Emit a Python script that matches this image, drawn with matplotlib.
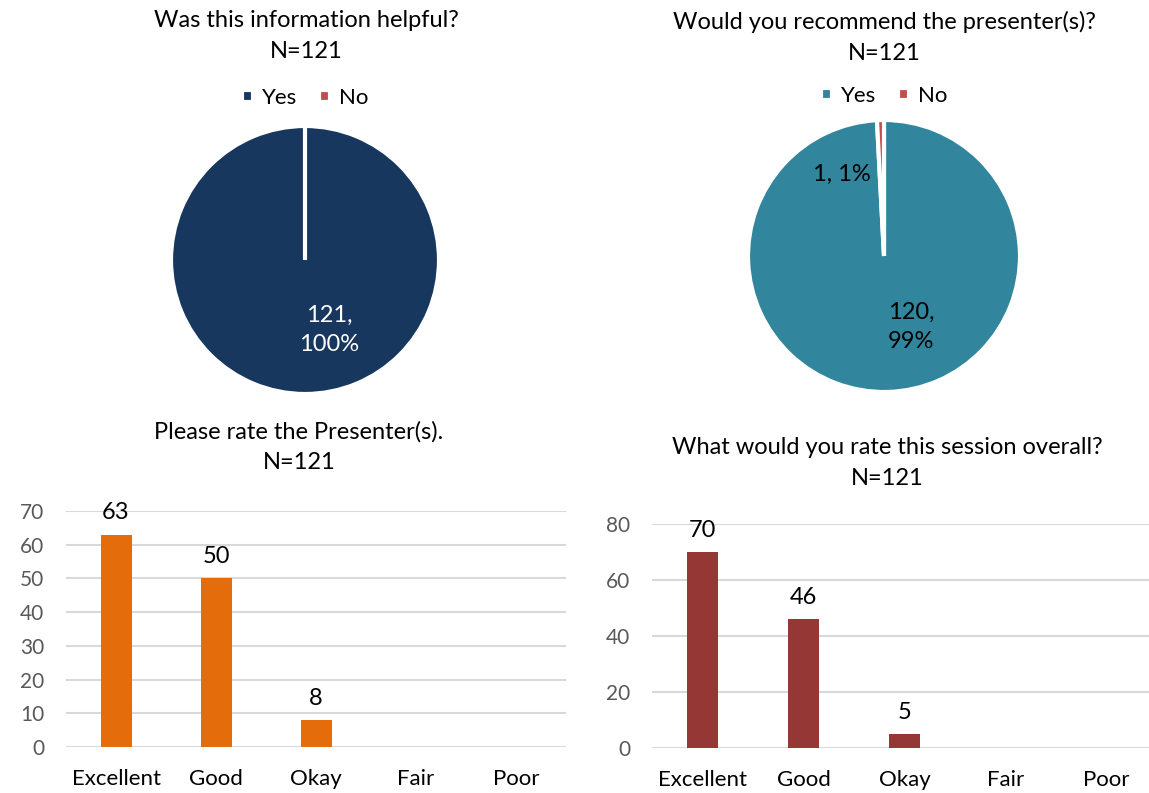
import matplotlib
matplotlib.use("Agg")
import matplotlib.pyplot as plt

plt.rcParams['font.family'] = ['Lato', 'DejaVu Sans']

# survey answers
yn_labels = ['Yes', 'No']
helpful_counts = [121, 0]
recommend_counts = [120, 1]

ratings = ['Excellent', 'Good', 'Okay', 'Fair', 'Poor']
presenter_counts = [63, 50, 8, 0, 0]
session_counts = [70, 46, 5, 0, 0]

W, H = 1149, 793


def box(left, top, width, height):
    # pixel box -> figure fraction
    return [left / W, (H - top - height) / H, width / W, height / H]


def pie_panel(fig, rect, counts, colors, title, legend_xy, labels_pos, label_colors):
    ax = fig.add_axes(rect)
    total = sum(counts)
    wedges, _ = ax.pie(counts, colors=colors, startangle=90, counterclock=False,
                       wedgeprops=dict(edgecolor='white', linewidth=3))
    ax.set_xlim(-1, 1)
    ax.set_ylim(-1, 1)
    ax.set_aspect('equal')
    for val, pos, col in zip(counts, labels_pos, label_colors):
        if pos is None:
            continue
        pct = round(100 * val / total)
        txt = f"{val},\n{pct}%" if val > 50 else f"{val}, {pct}%"
        ax.text(pos[0], pos[1], txt, ha='center', va='center', fontsize=17,
                color=col, linespacing=1.5)
    fig.text(title[0], title[1], title[2], ha='center', va='center', fontsize=17,
             linespacing=1.6)
    fig.legend(wedges, yn_labels, loc='center', bbox_to_anchor=legend_xy, ncol=2,
               frameon=False, fontsize=16, handlelength=0.5, handleheight=0.5,
               handletextpad=0.4, columnspacing=1.0)


def bar_panel(fig, rect, counts, color, ymax, step, title):
    ax = fig.add_axes(rect)
    x = range(len(ratings))
    ax.bar(x, counts, width=0.31, color=color, zorder=3)
    for i, v in enumerate(counts):
        if v > 0:
            ax.annotate(str(v), (i, v), xytext=(0, 8), textcoords='offset points',
                        ha='center', va='bottom', fontsize=17)
    ax.set_xlim(-0.5, len(ratings) - 0.5)
    ax.set_ylim(0, ymax)
    ax.set_yticks(range(0, ymax + 1, step))
    ax.set_xticks(list(x))
    ax.set_xticklabels(ratings, fontsize=16)
    ax.tick_params(axis='y', labelsize=15, labelcolor='#595959', length=0, pad=15.5)
    ax.tick_params(axis='x', length=0, pad=16)
    ax.grid(axis='y', color='#d9d9d9', linewidth=1.5, zorder=0)
    ax.set_axisbelow(True)
    for s in ax.spines.values():
        s.set_visible(False)
    fig.text(title[0], title[1], title[2], ha='center', va='center', fontsize=17,
             linespacing=1.6)


fig = plt.figure(figsize=(W / 100, H / 100), dpi=100)

pie_panel(fig, box(171, 126, 268, 268), helpful_counts, ['#17375e', '#c0504d'],
          (306 / W, 1 - 36 / H, "Was this information helpful?\nN=121"),
          (305 / W, 1 - 98 / H), [(0.18, -0.52), None], ['white', 'black'])

pie_panel(fig, box(748, 120, 272, 272), recommend_counts, ['#31859c', '#c0504d'],
          (884 / W, 1 - 37.5 / H, "Would you recommend the presenter(s)?\nN=121"),
          (884 / W, 1 - 96 / H), [(0.2, -0.52), (-0.31, 0.6)], ['black', 'black'])

bar_panel(fig, box(66, 511, 500, 236), presenter_counts, '#e46c0a', 70, 10,
          (299 / W, 1 - 447 / H, "Please rate the Presenter(s).\nN=121"))

bar_panel(fig, box(652, 524, 505, 224), session_counts, '#953735', 80, 20,
          (887 / W, 1 - 463 / H, "What would you rate this session overall?\nN=121"))

fig.savefig("out.png", dpi=100)
